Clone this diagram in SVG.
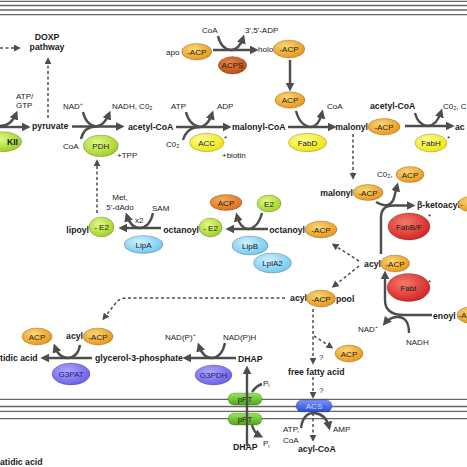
<svg xmlns="http://www.w3.org/2000/svg" width="467" height="467" viewBox="0 0 467 467">
<style>
text{font-family:"Liberation Sans",Arial,sans-serif;fill:#1a1a1a}
.b{font-weight:bold;font-size:8.7px}
.r{font-size:8px}
.n{font-size:8px;text-anchor:middle}
.m{stroke:#666;stroke-width:1.3;fill:none}
.a{stroke:#4d4d4d;stroke-width:2.4;fill:none;marker-end:url(#ah)}
.c{stroke:#4d4d4d;stroke-width:2.4;fill:none}
.d{stroke:#4d4d4d;stroke-width:1.5;fill:none;stroke-dasharray:3 2.5;marker-end:url(#dh)}
.e{stroke:#000;stroke-opacity:.35;stroke-width:.6}
</style>
<defs>
<marker id="ah" viewBox="0 0 10 10" refX="6" refY="5" markerWidth="9" markerHeight="9" markerUnits="userSpaceOnUse" orient="auto"><path d="M0,0 L10,5 L0,10 z" fill="#4d4d4d"/></marker>
<marker id="dh" viewBox="0 0 10 10" refX="6" refY="5" markerWidth="7" markerHeight="7" markerUnits="userSpaceOnUse" orient="auto"><path d="M0,0 L10,5 L0,10 z" fill="#4d4d4d"/></marker>
<radialGradient id="gO" cx="40%" cy="35%" r="70%"><stop offset="0" stop-color="#fcd77a"/><stop offset="1" stop-color="#e8920f"/></radialGradient>
<radialGradient id="gO2" cx="40%" cy="35%" r="70%"><stop offset="0" stop-color="#f5ae5a"/><stop offset="1" stop-color="#dc6a18"/></radialGradient>
<radialGradient id="gY" cx="40%" cy="35%" r="70%"><stop offset="0" stop-color="#ffff9a"/><stop offset="1" stop-color="#eee200"/></radialGradient>
<radialGradient id="gG" cx="40%" cy="35%" r="70%"><stop offset="0" stop-color="#e2f888"/><stop offset="1" stop-color="#9ccf1c"/></radialGradient>
<radialGradient id="gBr" cx="40%" cy="35%" r="70%"><stop offset="0" stop-color="#e5864a"/><stop offset="1" stop-color="#b9480e"/></radialGradient>
<radialGradient id="gR" cx="40%" cy="35%" r="70%"><stop offset="0" stop-color="#f27a6a"/><stop offset="1" stop-color="#d41f1f"/></radialGradient>
<radialGradient id="gL" cx="40%" cy="35%" r="70%"><stop offset="0" stop-color="#cdf0ff"/><stop offset="1" stop-color="#6cc6ee"/></radialGradient>
<radialGradient id="gP" cx="40%" cy="35%" r="70%"><stop offset="0" stop-color="#aea4ff"/><stop offset="1" stop-color="#6a5ce6"/></radialGradient>
<linearGradient id="gT" x1="0" y1="0" x2="0" y2="1"><stop offset="0" stop-color="#9ae45a"/><stop offset="1" stop-color="#4fa81c"/></linearGradient>
<linearGradient id="gS" x1="0" y1="0" x2="0" y2="1"><stop offset="0" stop-color="#7894ff"/><stop offset="1" stop-color="#2c4bd2"/></linearGradient>
</defs>
<rect width="467" height="467" fill="#fff"/>
<g id="membranes">
<path class="m" d="M0,1.3H467M0,5.5H467M0,10H467M0,14.7H467"/>
<path class="m" d="M0,399.3H467M0,406.5H467M0,411.3H467M0,418.6H467"/>
</g>
<g id="labels">
<text class="b" x="47" y="40" text-anchor="middle">DOXP</text>
<text class="b" x="47" y="49.5" text-anchor="middle">pathway</text>
<text class="r" x="16" y="99.3">ATP/</text>
<text class="r" x="16" y="108.3">GTP</text>
<text class="b" x="32" y="129">pyruvate</text>
<text class="r" x="63" y="109">NAD⁺</text>
<text class="r" x="112" y="109">NADH, C0₂</text>
<text class="r" x="63" y="149">CoA</text>
<text class="r" x="117" y="157.5">+TPP</text>
<text class="b" x="128" y="129.5">acetyl-CoA</text>
<text class="r" x="202" y="33">CoA</text>
<text class="r" x="245" y="33">3',5'-ADP</text>
<text class="r" x="166" y="54.5">apo</text>
<text class="r" x="258" y="51.8">holo</text>
<text class="r" x="171" y="109">ATP</text>
<text class="r" x="217" y="109">ADP</text>
<text class="r" x="166" y="147">C0₂</text>
<text class="r" x="224" y="141">*</text>
<text class="r" x="222" y="157.5">+biotin</text>
<text class="b" x="232" y="129.5">malonyl-CoA</text>
<text class="r" x="327" y="109">CoA</text>
<text class="b" x="368" y="129.5" text-anchor="end">malonyl</text>
<text class="b" x="370" y="109">acetyl-CoA</text>
<text class="r" x="443" y="109">C0₂, C</text>
<text class="b" x="455" y="129.5">ac</text>
<text class="r" x="447" y="141">*</text>
<text class="b" x="353" y="196" text-anchor="end">malonyl</text>
<text class="r" x="377" y="177">C0₂,</text>
<text class="b" x="417" y="208">β-ketoacyl</text>
<text class="r" x="428" y="219">*</text>
<text class="b" x="381" y="266.5" text-anchor="end">acyl</text>
<text class="r" x="428" y="285">*</text>
<text class="r" x="358" y="332.3">NAD⁺</text>
<text class="r" x="406" y="345">NADH</text>
<text class="b" x="433" y="318.5">enoyl</text>
<text class="b" x="305" y="232.5" text-anchor="end">octanoyl</text>
<text class="b" x="199" y="232.5" text-anchor="end">octanoyl</text>
<text class="b" x="89" y="232.5" text-anchor="end">lipoyl</text>
<text class="r" x="120" y="199.5" text-anchor="middle">Met,</text>
<text class="r" x="120" y="210" text-anchor="middle">5'-dAdo</text>
<text class="r" x="135" y="222.5">x2</text>
<text class="r" x="152" y="211">SAM</text>
<text class="b" x="307" y="301" text-anchor="end">acyl</text>
<text class="b" x="336" y="301.5">pool</text>
<text class="b" x="83" y="339.3" text-anchor="end">acyl</text>
<text class="b" x="0" y="361">tidic acid</text>
<text class="b" x="95" y="361">glycerol-3-phosphate</text>
<text class="r" x="165" y="340">NAD(P)⁺</text>
<text class="r" x="223" y="340">NAD(P)H</text>
<text class="b" x="238" y="362">DHAP</text>
<text class="r" x="263" y="385.5">P<tspan font-size="5.5" dy="1.5">i</tspan></text>
<text class="r" x="263" y="446">P<tspan font-size="5.5" dy="1.5">i</tspan></text>
<text class="b" x="233" y="449.5">DHAP</text>
<text class="r" x="283" y="431.7">ATP,</text>
<text class="r" x="283" y="442.7">CoA</text>
<text class="r" x="333" y="432">AMP</text>
<text class="b" x="298" y="451.5">acyl-CoA</text>
<text class="b" x="288" y="374.5">free fatty acid</text>
<text class="r" x="319" y="359.5">?</text>
<text class="r" x="319" y="392.7">?</text>
<text class="b" x="0" y="465">atidic acid</text>
</g>
<g id="KII"><ellipse class="e" cx="2.7" cy="141.7" rx="19" ry="10" fill="url(#gG)"/><text class="b" x="18" y="145" text-anchor="end">KII</text></g>
<g id="PDH"><ellipse class="e" cx="100.8" cy="145.8" rx="17.5" ry="10.8" fill="url(#gG)"/><text class="n" x="100.8" y="148.8">PDH</text></g>
<g id="ACC"><ellipse class="e" cx="206.7" cy="142.5" rx="17.3" ry="9.2" fill="url(#gY)"/><text class="n" x="206.7" y="145.5">ACC</text></g>
<g id="apo-ACP"><ellipse class="e" cx="196.7" cy="51.7" rx="15" ry="8.3" fill="url(#gO)"/><text class="n" x="196.7" y="54.7">-ACP</text></g>
<g id="ACPS"><ellipse class="e" cx="232.5" cy="65.3" rx="14.2" ry="8.7" fill="url(#gBr)"/><text class="n" x="232.5" y="68.3">ACPS</text></g>
<g id="holo-ACP"><ellipse class="e" cx="289" cy="49" rx="15.8" ry="9" fill="url(#gO)"/><text class="n" x="289" y="52">-ACP</text></g>
<g id="ACP-1"><ellipse class="e" cx="290" cy="100" rx="15" ry="8.3" fill="url(#gO)"/><text class="n" x="290" y="103">ACP</text></g>
<g id="FabD"><ellipse class="e" cx="307.5" cy="142.5" rx="19.2" ry="9.2" fill="url(#gY)"/><text class="n" x="307.5" y="145.5">FabD</text></g>
<g id="malonyl-ACP"><ellipse class="e" cx="384" cy="126.7" rx="16" ry="8.3" fill="url(#gO)"/><text class="n" x="384" y="129.7">-ACP</text></g>
<g id="FabH"><ellipse class="e" cx="431" cy="143" rx="16" ry="9" fill="url(#gY)"/><text class="n" x="431" y="146">FabH</text></g>
<g id="malonyl-ACP-2"><ellipse class="e" cx="368" cy="192.5" rx="15" ry="8" fill="url(#gO)"/><text class="n" x="368" y="195.5">-ACP</text></g>
<g id="ACP-2"><ellipse class="e" cx="410" cy="174.5" rx="14" ry="8" fill="url(#gO)"/><text class="n" x="410" y="177.5">ACP</text></g>
<g id="ketoacyl-ACP"><ellipse class="e" cx="473" cy="204" rx="15" ry="8" fill="url(#gO)"/><text class="r" x="460" y="207">-</text></g>
<g id="FabBF"><ellipse class="e" cx="409" cy="226.5" rx="21" ry="13.5" fill="url(#gR)"/><text class="n" x="409" y="229.5">FabB/F</text></g>
<g id="acyl-ACP"><ellipse class="e" cx="395" cy="263.5" rx="14.5" ry="8.5" fill="url(#gO)"/><text class="n" x="395" y="266.5">-ACP</text></g>
<g id="FabI"><ellipse class="e" cx="408.5" cy="287.5" rx="21.5" ry="14" fill="url(#gR)"/><text class="n" x="408.5" y="290.5">FabI</text></g>
<g id="enoyl-ACP"><ellipse class="e" cx="472" cy="315" rx="15" ry="8.5" fill="url(#gO)"/><text class="r" x="458.5" y="318">-A</text></g>
<g id="octanoyl-ACP"><ellipse class="e" cx="321" cy="229.5" rx="16" ry="8.5" fill="url(#gO)"/><text class="n" x="321" y="232.5">-ACP</text></g>
<g id="ACP-3"><ellipse class="e" cx="226" cy="202.5" rx="16" ry="8" fill="url(#gO2)"/><text class="n" x="226" y="205.5">ACP</text></g>
<g id="E2"><ellipse class="e" cx="269" cy="203.5" rx="12" ry="8.5" fill="url(#gG)"/><text class="n" x="269" y="206.5">E2</text></g>
<g id="LipB"><ellipse class="e" cx="250" cy="245.5" rx="18" ry="9.5" fill="url(#gL)"/><text class="n" x="250" y="248.5">LipB</text></g>
<g id="LplA2"><ellipse class="e" cx="272.5" cy="263" rx="19" ry="10" fill="url(#gL)"/><text class="n" x="272.5" y="266">LplA2</text></g>
<g id="octanoyl-E2"><ellipse class="e" cx="210.5" cy="227.5" rx="11.5" ry="9.5" fill="url(#gG)"/><text class="n" x="210.5" y="230.5">- E2</text></g>
<g id="lipoyl-E2"><ellipse class="e" cx="101.5" cy="227" rx="12.5" ry="10" fill="url(#gG)"/><text class="n" x="101.5" y="230">- E2</text></g>
<g id="LipA"><ellipse class="e" cx="143.5" cy="244.5" rx="19.5" ry="9" fill="url(#gL)"/><text class="n" x="143.5" y="247.5">LipA</text></g>
<g id="pool-ACP"><ellipse class="e" cx="321" cy="298.5" rx="14.5" ry="8.5" fill="url(#gO)"/><text class="n" x="321" y="301.5">-ACP</text></g>
<g id="ACP-4"><ellipse class="e" cx="37" cy="336.5" rx="15" ry="8.5" fill="url(#gO)"/><text class="n" x="37" y="339.5">ACP</text></g>
<g id="acyl-ACP-2"><ellipse class="e" cx="98" cy="336.5" rx="15" ry="8.5" fill="url(#gO)"/><text class="n" x="98" y="339.5">-ACP</text></g>
<g id="G3PAT"><ellipse class="e" cx="71" cy="374" rx="19" ry="11" fill="url(#gP)"/><text class="n" x="71" y="377" style="fill:#22226a">G3PAT</text></g>
<g id="G3PDH"><ellipse class="e" cx="213.5" cy="375" rx="18.5" ry="10" fill="url(#gP)"/><text class="n" x="213.5" y="378" style="fill:#22226a">G3PDH</text></g>
<g id="ACP-5"><ellipse class="e" cx="349" cy="353.5" rx="14" ry="8.5" fill="url(#gO)"/><text class="n" x="349" y="356.5">ACP</text></g>
<g id="pPT-1"><rect class="e" x="228" y="393" width="34" height="12" rx="6" fill="url(#gT)"/><text class="n" x="245" y="402">pPT</text></g>
<g id="pPT-2"><rect class="e" x="228" y="413" width="34" height="12" rx="6" fill="url(#gT)"/><text class="n" x="245" y="422">pPT</text></g>
<g id="ACS"><rect class="e" x="296" y="400" width="36" height="12" rx="6" fill="url(#gS)"/><text class="n" x="314" y="409" style="fill:#c8d8ff">ACS</text></g>
<g id="connectors">
<path class="d" d="M0,48H18"/>
<path class="d" d="M48,118V60"/>
<path class="a" d="M0,127H27"/>
<path class="a" d="M0,126Q11,126 16,114"/>
<path class="a" d="M72,126.5H121"/>
<path class="c" d="M83,112Q86,125 96,126.5"/>
<path class="a" d="M81,139Q84,126.5 96,126.5Q104,126 109,114"/>
<path class="a" d="M176,127H228"/>
<path class="c" d="M186,112Q189,125 200,127"/>
<path class="a" d="M183,140Q187,127 200,127Q208,126 212,114"/>
<path class="a" d="M213,50H255"/>
<path class="a" d="M218,36Q221,49 231,50Q239,50 243,38"/>
<path class="a" d="M290,60V88"/>
<path class="a" d="M288,127H333"/>
<path class="a" d="M296,111Q300,126 311,127Q319,126 322,113"/>
<path class="a" d="M405,126H451"/>
<path class="a" d="M415,113Q418,125 428,126Q437,125 441,112"/>
<path class="d" d="M353,134V177"/>
<path class="a" d="M381,254V218Q381,205.5 393,205.5H412"/>
<path class="a" d="M376,202Q390,210 394,198L397,186"/>
<path class="d" d="M359,261L334,245"/>
<path class="d" d="M359,266L334,286"/>
<path class="a" d="M432,315H404Q385,315 385,300V274"/>
<path class="a" d="M409,333Q409,316 396,317Q389,318 385,323"/>
<path class="a" d="M268,229H229"/>
<path class="a" d="M262,213Q258,228 248,229Q240,228 237,216"/>
<path class="a" d="M161,228H122"/>
<path class="a" d="M153,213Q150,227 140,228Q131,228 127,216"/>
<path class="d" d="M97,213V162"/>
<path class="d" d="M285,298H126Q119,298 115,304L104,318"/>
<path class="a" d="M92,358H44"/>
<path class="a" d="M80,345Q78,357 68,358Q59,358 55,347"/>
<path class="a" d="M236,358H186"/>
<path class="a" d="M225,343Q222,357 212,358Q203,358 199,346"/>
<path class="a" d="M247,446V369"/>
<path class="c" d="M252,392Q256,386 262,384"/>
<path class="a" d="M252,425Q254,433 260,436"/>
<path class="d" d="M313,309V362"/>
<path class="d" d="M314,336L331,347"/>
<path class="d" d="M313,377V396"/>
<path class="d" d="M313,413V439"/>
<path class="a" d="M301,428Q303,413 314,413Q326,414 329,427"/>
</g>
</svg>
